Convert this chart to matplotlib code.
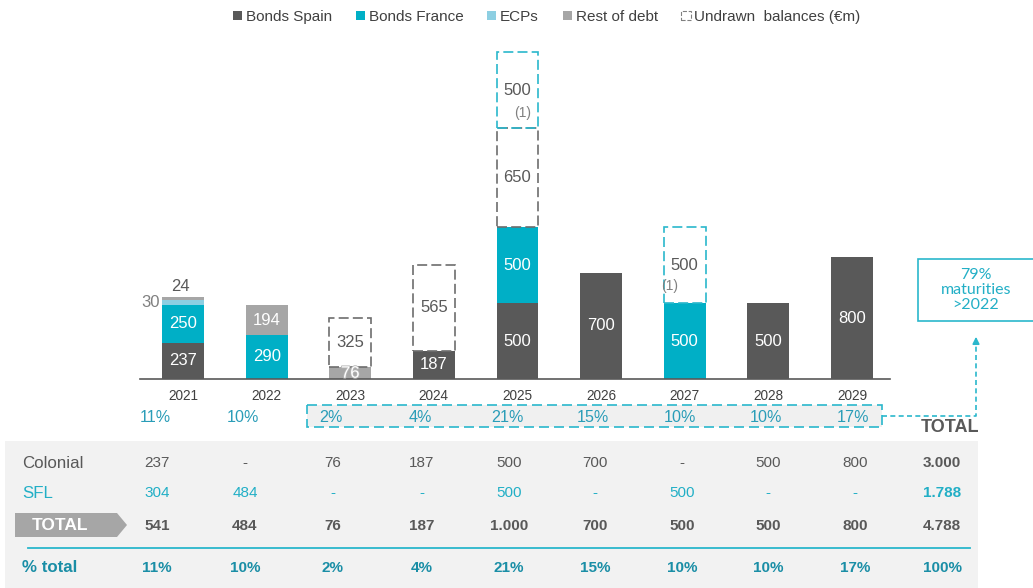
import numpy as np
import matplotlib
matplotlib.use("Agg")
import matplotlib.pyplot as plt
from matplotlib.patches import Rectangle, Polygon, Patch
import matplotlib.patheffects as pe

plt.rcParams['font.family'] = ['Liberation Sans', 'DejaVu Sans']

# ---- data (€m) ----
years = ['2021', '2022', '2023', '2024', '2025', '2026', '2027', '2028', '2029']
bonds_spain = [237, 0, 0, 187, 500, 700, 0, 500, 800]
bonds_france = [250, 290, 0, 0, 500, 0, 500, 0, 0]
ecps = [30, 0, 0, 0, 0, 0, 0, 0, 0]
rest_of_debt = [24, 194, 76, 0, 0, 0, 0, 0, 0]
undrawn_colonial = [0, 0, 325, 565, 650, 0, 0, 0, 0]
undrawn_sfl = [0, 0, 0, 0, 500, 0, 500, 0, 0]
footnote_years = ['2025', '2027']

row_colonial = ['237', '-', '76', '187', '500', '700', '-', '500', '800', '3.000']
row_sfl = ['304', '484', '-', '-', '500', '-', '500', '-', '-', '1.788']
row_total = ['541', '484', '76', '187', '1.000', '700', '500', '500', '800', '4.788']
row_pct = ['11%', '10%', '2%', '4%', '21%', '15%', '10%', '10%', '17%', '100%']

# ---- colours ----
C_SPAIN = '#595959'
C_FRANCE = '#00AFC6'
C_ECP = '#8DCFE2'
C_REST = '#A6A6A6'
C_DASH_GREY = '#6d6d6d'
C_DASH_CYAN = '#2AB7CC'
C_TEXT = '#404040'
C_CYAN_TXT = '#22AFC6'
C_PCT = '#2A9DB8'
C_TEAL = '#1A8EA6'
C_PANEL = '#F2F2F2'

W, H = 1033, 588
fig = plt.figure(figsize=(W / 100, H / 100), dpi=100)


def fx(px):
    return px / W


def fy(py):
    return 1 - py / H


# overlay in pixel coordinates for table and annotations
ov = fig.add_axes([0, 0, 1, 1], zorder=0)
ov.set_xlim(0, W)
ov.set_ylim(H, 0)
ov.axis('off')

# main bar axes
ax = fig.add_axes([fx(140), fy(379), (890 - 140) / W, (379 - 40) / H], zorder=1)
ax.patch.set_alpha(0)
x = np.arange(len(years))
step = 83.625
ax.set_xlim((140 - 183) / step, (890 - 183) / step)
ax.set_ylim(0, 339 / 0.152)
for s in ['top', 'right', 'left']:
    ax.spines[s].set_visible(False)
ax.spines['bottom'].set_color('#595959')
ax.spines['bottom'].set_linewidth(1.2)
ax.set_yticks([])
ax.set_xticks(x)
ax.set_xticklabels(years, fontsize=9.8, color=C_TEXT)
ax.tick_params(axis='x', length=0, pad=7.5)

bw = 0.5
bottom = np.zeros(len(years))

solid_series = [
    ('Bonds Spain', bonds_spain, C_SPAIN),
    ('Bonds France', bonds_france, C_FRANCE),
    ('ECPs', ecps, C_ECP),
    ('Rest of debt', rest_of_debt, C_REST),
]
for name, vals, col in solid_series:
    vals = np.array(vals, dtype=float)
    idx = np.nonzero(vals)[0]
    ax.bar(x[idx], vals[idx], bw, bottom=bottom[idx], color=col, linewidth=0, zorder=2)
    for i in idx:
        v = vals[i]
        mid = bottom[i] + v / 2
        if v < 50 and name == 'ECPs':
            ax.text(x[i] - bw / 2 - 0.03, mid, f'{int(v)}', ha='right', va='center',
                    fontsize=12, color='#808080', zorder=4)
        elif v < 50:
            ax.text(x[i] - 0.03, bottom[i] + v + 20, f'{int(v)}', ha='center', va='bottom',
                    fontsize=12, color=C_SPAIN, zorder=4)
        elif v < 100:
            ax.text(x[i], mid, f'{int(v)}', ha='center', va='center', fontsize=12,
                    color='white', zorder=4,
                    path_effects=[pe.withStroke(linewidth=1.2, foreground='#b5b5b5')])
        else:
            ax.text(x[i], mid, f'{int(v)}', ha='center', va='center', fontsize=12,
                    color='white', zorder=4)
    bottom = bottom + vals

dashed_series = [
    (undrawn_colonial, C_DASH_GREY),
    (undrawn_sfl, C_DASH_CYAN),
]
for vals, col in dashed_series:
    vals = np.array(vals, dtype=float)
    idx = np.nonzero(vals)[0]
    ax.bar(x[idx], vals[idx], bw, bottom=bottom[idx], facecolor='none', edgecolor=col,
           linewidth=1.2, linestyle=(0, (6, 2.5)), zorder=3)
    for i in idx:
        ax.text(x[i], bottom[i] + vals[i] / 2, f'{int(vals[i])}', ha='center', va='center',
                fontsize=12, color=C_SPAIN, zorder=4)
    bottom = bottom + vals

# footnote markers on the SFL undrawn facilities
sfl_arr = np.array(undrawn_sfl, dtype=float)
base_sfl = bottom - sfl_arr
for yr in footnote_years:
    i = years.index(yr)
    if i == 4:
        ax.text(x[i] + 0.06, base_sfl[i] + sfl_arr[i] * 0.2, '(1)', ha='center', va='center',
                fontsize=10, color='#808080', zorder=4)
    else:
        ax.text(x[i] - 0.18, base_sfl[i] + sfl_arr[i] * 0.22, '(1)', ha='center', va='center',
                fontsize=10, color='#808080', zorder=4)

# legend
handles = [
    Patch(facecolor=C_SPAIN, label='Bonds Spain'),
    Patch(facecolor=C_FRANCE, label='Bonds France'),
    Patch(facecolor=C_ECP, label='ECPs'),
    Patch(facecolor=C_REST, label='Rest of debt'),
    Patch(facecolor='white', edgecolor='#808080', linestyle='--', linewidth=0.8,
          label='Undrawn  balances (€m)'),
]
fig.legend(handles=handles, loc='center left', bbox_to_anchor=(fx(233), fy(17)),
           bbox_transform=fig.transFigure, ncol=5, frameon=False, fontsize=11,
           handlelength=0.6, handleheight=0.6, handletextpad=0.25, columnspacing=1.55,
           borderpad=0, borderaxespad=0, labelcolor=C_TEXT)

# percentage row beneath the years
col_x = [157, 245, 333, 422, 509, 595, 682, 768, 855, 942]
ov.add_patch(Rectangle((307, 405), 882 - 307, 22, facecolor='#F0F0F0',
                       edgecolor=C_DASH_CYAN, linewidth=1.2, linestyle=(0, (6, 3))))
for i in range(len(years)):
    ov.text(col_x[i] - 2, 417, row_pct[i], ha='center', va='center', fontsize=11.6,
            color=C_PCT)

# connector to the call-out box
ov.plot([882, 976, 976], [416, 416, 345], color=C_DASH_CYAN, linewidth=1.2,
        linestyle=(0, (3, 2)))
ov.annotate('', xy=(976, 334), xytext=(976, 346),
            arrowprops=dict(arrowstyle='-|>', color=C_DASH_CYAN, lw=1.2,
                            mutation_scale=10))
ov.add_patch(Rectangle((918, 259), 125, 62, facecolor='white', edgecolor=C_DASH_CYAN,
                       linewidth=1.2))
ov.text(976, 290, '79%\nmaturities\n>2022', ha='center', va='center', fontsize=11.5,
        color=C_CYAN_TXT, family=['Lato', 'DejaVu Sans'], linespacing=1.05)

ov.text(950, 427, 'TOTAL', ha='center', va='center', fontsize=13, fontweight='bold',
        color=C_SPAIN)

# summary table
ov.add_patch(Rectangle((5, 441), 973, 150, facecolor=C_PANEL, edgecolor='none'))
ov.text(22, 463, 'Colonial', ha='left', va='center', fontsize=12.2, color=C_SPAIN)
ov.text(22, 493, 'SFL', ha='left', va='center', fontsize=12.2, color=C_CYAN_TXT)
ov.add_patch(Polygon([(15, 513), (117, 513), (127, 525), (117, 537), (15, 537)],
                     closed=True, facecolor='#A6A6A6', edgecolor='none'))
ov.text(60, 525, 'TOTAL', ha='center', va='center', fontsize=12.5, fontweight='bold',
        color='white')
ov.plot([28, 970], [548, 548], color=C_DASH_CYAN, linewidth=1.3)
ov.text(22, 568, '% total', ha='left', va='center', fontsize=12.2, fontweight='bold',
        color=C_TEAL)

last = len(col_x) - 1
for i, cx in enumerate(col_x):
    w_last = 'bold' if i == last else 'normal'
    ov.text(cx, 463, row_colonial[i], ha='center', va='center', fontsize=11,
            color=C_SPAIN, fontweight=w_last)
    ov.text(cx, 493, row_sfl[i], ha='center', va='center', fontsize=11,
            color=C_CYAN_TXT, fontweight=w_last)
    ov.text(cx, 526, row_total[i], ha='center', va='center', fontsize=11,
            color=C_SPAIN, fontweight='bold')
    ov.text(cx, 568, row_pct[i], ha='center', va='center', fontsize=11,
            color=C_TEAL, fontweight='bold')

fig.savefig('out.png', dpi=100)
